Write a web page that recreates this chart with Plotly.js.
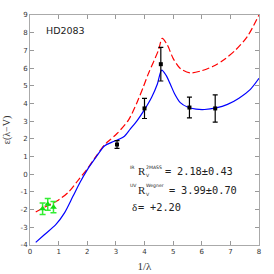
<!DOCTYPE html>
<html>
<head>
<meta charset="utf-8">
<script src="https://cdn.plot.ly/plotly-3.0.1.min.js"></script>
<style>html,body{margin:0;padding:0;background:#fff;}#chart{width:274px;height:274px;}</style>
</head>
<body>
<div id="chart"></div>
<script>
// Blue solid curve (fit)
const blueX = [0.2, 0.5, 0.9, 1.2, 1.5, 1.75, 2.0, 2.3, 2.6, 2.85, 3.1, 3.3, 3.5, 3.75, 4.0, 4.25, 4.45, 4.6, 4.75, 4.9, 5.05, 5.25, 5.5, 5.8, 6.1, 6.5, 6.9, 7.3, 7.7, 8.0];
const blueY = [-3.85, -3.42, -2.85, -2.2, -1.25, -0.45, 0.25, 0.95, 1.6, 1.8, 1.97, 2.15, 2.55, 3.05, 3.65, 4.35, 5.1, 5.88, 5.6, 5.1, 4.55, 4.05, 3.8, 3.68, 3.66, 3.75, 3.95, 4.3, 4.8, 5.42];
// Red dashed curve
const redX = [0.2, 0.5, 1.0, 1.35, 1.7, 2.0, 2.3, 2.6, 2.8, 3.04, 3.44, 3.75, 3.95, 4.14, 4.49, 4.62, 4.8, 5.0, 5.25, 5.6, 6.0, 6.4, 6.8, 7.2, 7.6, 8.0];
const redY = [-2.13, -1.87, -1.45, -1.0, -0.3, 0.3, 1.0, 1.65, 1.95, 2.3, 3.06, 4.1, 4.9, 5.7, 7.02, 7.68, 7.3, 6.55, 5.98, 5.73, 5.85, 6.1, 6.5, 7.05, 7.8, 9.0];
// Black observed points (UV)
const obsX = [3.04, 4.0, 4.57, 5.57, 6.47];
const obsY = [1.68, 3.72, 6.22, 3.77, 3.72];
const obsErr = [0.22, 0.57, 0.95, 0.59, 0.77];
// Green points (IR)
const irX = [0.44, 0.62, 0.82];
const irY = [-1.95, -1.7, -1.86];
const irErr = [0.33, 0.33, 0.32];
// Ticks
const xTicks = [0, 1, 2, 3, 4, 5, 6, 7, 8];
const yTicks = [-4, -3, -2, -1, 0, 1, 2, 3, 4, 5, 6, 7, 8, 9];
// Labels
const starName = 'HD2083';
const irValue = '2.18±0.43';
const uvValue = '3.99±0.70';
const deltaValue = '+2.20';

const traces = [
  {x: redX, y: redY, mode: 'lines', line: {color: '#ff0000', width: 1.2, dash: '7px,3px', shape: 'spline', smoothing: 0.8}, hoverinfo: 'skip'},
  {x: blueX, y: blueY, mode: 'lines', line: {color: '#0000ff', width: 1.2, shape: 'spline', smoothing: 0.8}, hoverinfo: 'skip'},
  {x: irX, y: irY, mode: 'markers', marker: {symbol: 'triangle-up', size: 6, color: '#11dd11'},
   error_y: {type: 'data', array: irErr, color: '#33ee33', thickness: 1.5, width: 3}},
  {x: obsX, y: obsY, mode: 'markers', marker: {symbol: 'square', size: 4, color: '#000000'},
   error_y: {type: 'data', array: obsErr, color: '#000000', thickness: 1.2, width: 2.5}}
];

const tickFont = {family: 'DejaVu Sans', size: 7, color: '#333'};
const axisCommon = {
  showgrid: false, zeroline: false, showline: true, linecolor: '#aaa', linewidth: 1,
  mirror: 'ticks', ticks: 'inside', ticklen: 4, tickcolor: '#999', tickwidth: 1,
  tickfont: tickFont, tickmode: 'array'
};

// pixel -> data helpers for label placement
const px2x = p => (p - 29.5) / 28.7;
const px2y = p => (174 - p) / 17.67;
const serif = {family: 'Liberation Serif', size: 11, color: '#222'};
const mono = {family: 'DejaVu Sans Mono', size: 10.3, color: '#222'};
const tiny = {family: 'DejaVu Sans', size: 4.6, color: '#222'};
function ann(xp, yp, text, font) {
  return {x: px2x(xp), y: px2y(yp), xref: 'x', yref: 'y', xanchor: 'left', yanchor: 'middle',
          showarrow: false, text: text, font: font};
}

const layout = {
  width: 274, height: 274,
  margin: {l: 29.5, r: 14.7, t: 15, b: 29.3},
  paper_bgcolor: '#fff', plot_bgcolor: '#fff',
  showlegend: false,
  xaxis: Object.assign({}, axisCommon, {range: [0, 8], tickvals: xTicks, ticktext: xTicks.map(String),
    title: {text: '1/λ', font: {family: 'Liberation Serif', size: 11, color: '#333'}, standoff: 6}}),
  yaxis: Object.assign({}, axisCommon, {range: [-4, 9], tickvals: yTicks, ticktext: yTicks.map(String),
    title: {text: 'ε(λ−V)', font: {family: 'Liberation Serif', size: 10, color: '#333'}, standoff: 8}}),
  annotations: [
    ann(44, 30, starName, {family: 'DejaVu Sans', size: 9.5, color: '#222'}),
    // line 1
    ann(128, 167.5, 'IR', tiny),
    ann(135.5, 171, 'R', serif),
    ann(143.5, 175.5, 'V', tiny),
    ann(143.5, 167.5, '2MASS', tiny),
    ann(163, 171, '=', mono),
    ann(175, 171, irValue, mono),
    // line 2
    ann(128, 185.5, 'UV', tiny),
    ann(135.5, 189.3, 'R', serif),
    ann(143.5, 193.8, 'V', tiny),
    ann(143.5, 185.5, 'Wegner', tiny),
    ann(167, 189.3, '=', mono),
    ann(179, 189.3, uvValue, mono),
    // line 3
    ann(130, 207, 'δ', serif),
    ann(136, 207, '=', mono),
    ann(148, 207, deltaValue, mono)
  ]
};

Plotly.newPlot('chart', traces, layout, {staticPlot: true, displayModeBar: false});
</script>
</body>
</html>
